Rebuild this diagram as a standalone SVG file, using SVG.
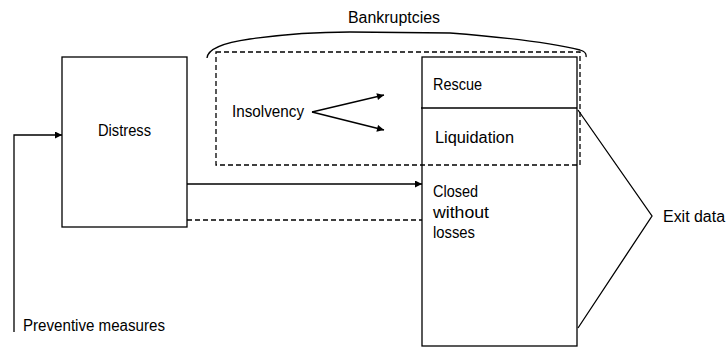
<svg xmlns="http://www.w3.org/2000/svg" width="726" height="347" viewBox="0 0 726 347">
<defs>
<marker id="ah" viewBox="0 0 10 10" refX="10" refY="5" markerWidth="10" markerHeight="7" markerUnits="userSpaceOnUse" orient="auto">
<path d="M0,0 L10,5 L0,10 z" fill="#000"/>
</marker>
</defs>
<style>
.ln{fill:none;stroke:#000;stroke-width:1.3}
.ds{fill:none;stroke:#000;stroke-width:1.3;stroke-dasharray:5,3}
.box{fill:#fff;stroke:#000;stroke-width:1.3}
text{font-family:"Liberation Sans",Arial,sans-serif;font-size:16px;fill:#000}
</style>
<rect width="726" height="347" fill="#fff"/>
<g id="bankruptcies">
<rect class="ds" x="216" y="52" width="364" height="113"/>
<path class="ln" d="M207,58 Q208,45 250,39 Q300,32 350,32 L450,33 Q540,40 580,50 Q587,52 586,57"/>
<text x="348" y="23" textLength="92" lengthAdjust="spacingAndGlyphs">Bankruptcies</text>
</g>
<g id="distress">
<rect class="box" x="62" y="57" width="125" height="170"/>
<text x="98" y="136" textLength="53" lengthAdjust="spacingAndGlyphs">Distress</text>
</g>
<g id="insolvency">
<text x="232" y="117" textLength="72" lengthAdjust="spacingAndGlyphs">Insolvency</text>
</g>
<g id="outcomes">
<rect x="422" y="57" width="155" height="289" style="fill:none;stroke:#000;stroke-width:1.3"/>
<line class="ln" x1="421" y1="108" x2="577" y2="108"/>
<text x="433" y="90" textLength="49" lengthAdjust="spacingAndGlyphs">Rescue</text>
<text x="435" y="143" textLength="79" lengthAdjust="spacingAndGlyphs">Liquidation</text>
<text x="433" y="197" textLength="45" lengthAdjust="spacingAndGlyphs">Closed</text>
<text x="433" y="218" textLength="56" lengthAdjust="spacingAndGlyphs">without</text>
<text x="433" y="238" textLength="42" lengthAdjust="spacingAndGlyphs">losses</text>
</g>
<g id="exit-data">
<text x="663" y="222" textLength="62" lengthAdjust="spacingAndGlyphs">Exit data</text>
</g>
<g id="preventive">
<text x="23" y="331" textLength="142" lengthAdjust="spacingAndGlyphs">Preventive measures</text>
</g>
<g id="connectors">
<polyline class="ln" points="14,332 14,135 62,135" marker-end="url(#ah)"/>
<line class="ln" x1="312" y1="112" x2="384" y2="95" marker-end="url(#ah)"/>
<line class="ln" x1="312" y1="112" x2="384" y2="130" marker-end="url(#ah)"/>
<line class="ln" x1="187" y1="184" x2="422" y2="184" marker-end="url(#ah)"/>
<line class="ds" x1="187" y1="220" x2="422" y2="220"/>
<polyline class="ln" points="578,110 652,216 578,328"/>
</g>
</svg>
